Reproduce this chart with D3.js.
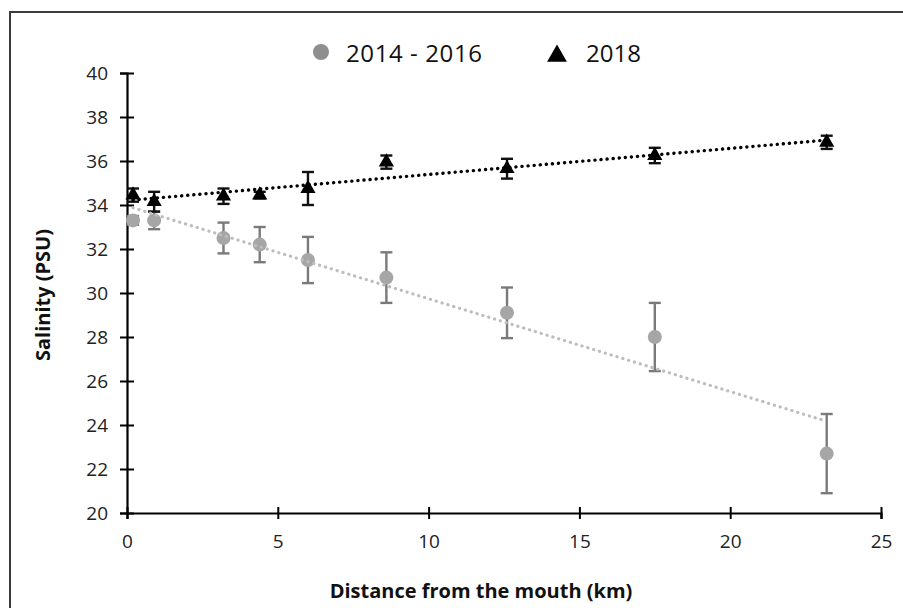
<!DOCTYPE html>
<html lang="en">
<head>
  <meta charset="UTF-8">
  <title>Salinity</title>
  <style>
    body { margin: 0; background: #fff; }
    text { font-family: "Open Sans", sans-serif; }
  </style>
</head>
<body>
  <svg id="svg" width="903" height="608"></svg>
  <script src="https://d3js.org/d3.v7.min.js"></script>
  <script>
    // values
    const distance = [0.2, 0.9, 3.2, 4.4, 6.0, 8.6, 12.6, 17.5, 23.2]
    const salinity1416 = [33.3, 33.3, 32.5, 32.2, 31.5, 30.7, 29.1, 28.0, 22.7]
    const error1416 = [0.2, 0.4, 0.7, 0.8, 1.05, 1.15, 1.15, 1.55, 1.8]
    const salinity2018 = [34.45, 34.15, 34.4, 34.45, 34.75, 35.95, 35.65, 36.25, 36.85]
    const error2018 = [0.3, 0.45, 0.35, 0.15, 0.75, 0.3, 0.45, 0.35, 0.3]
    const xTicks = [0, 5, 10, 15, 20, 25]
    const yTicks = [20, 22, 24, 26, 28, 30, 32, 34, 36, 38, 40]
    const seriesNames = ['2014 - 2016', '2018']

    const svg = d3.select('#svg')

    // outer frame
    svg.append('rect')
      .attr('x', 10).attr('y', 12)
      .attr('width', 1000).attr('height', 1000)
      .attr('fill', 'none')
      .attr('stroke', '#3a3a3a')
      .attr('stroke-width', 2)

    const xScale = d3.scaleLinear().domain([0, 25]).range([127, 881])
    const yScale = d3.scaleLinear().domain([20, 40]).range([513, 73])

    // axes with crossing ticks
    svg.append('g')
      .attr('transform', `translate(0,${yScale(20)})`)
      .call(d3.axisBottom(xScale).tickValues(xTicks).tickSize(6).tickPadding(16))
      .call(g => g.select('.domain').attr('stroke', '#000').attr('stroke-width', 2.2))
      .call(g => g.selectAll('.tick line').attr('y1', -6).attr('stroke-width', 2))
      .call(g => g.selectAll('.tick text')
        .attr('font-size', 19).attr('fill', '#222').style('font-family', '"Open Sans", sans-serif'))

    svg.append('g')
      .attr('transform', `translate(${xScale(0)},0)`)
      .call(d3.axisLeft(yScale).tickValues(yTicks).tickSize(7).tickPadding(12))
      .call(g => g.select('.domain').attr('stroke', '#000').attr('stroke-width', 2.2))
      .call(g => g.selectAll('.tick line').attr('x1', 7).attr('stroke-width', 2))
      .call(g => g.selectAll('.tick text')
        .attr('font-size', 19).attr('fill', '#222').style('font-family', '"Open Sans", sans-serif'))

    // axis titles
    svg.append('text')
      .attr('x', 481).attr('y', 598)
      .attr('text-anchor', 'middle')
      .attr('font-size', 20).attr('font-weight', 'bold').attr('fill', '#111')
      .text('Distance from the mouth (km)')

    svg.append('text')
      .attr('transform', 'translate(50,295) rotate(-90)')
      .attr('text-anchor', 'middle')
      .attr('font-size', 20).attr('font-weight', 'bold').attr('fill', '#111')
      .text('Salinity (PSU)')

    const data1416 = distance.map((d, i) => ({ x: d, y: salinity1416[i], e: error1416[i] }))
    const data2018 = distance.map((d, i) => ({ x: d, y: salinity2018[i], e: error2018[i] }))

    // least squares trendline over the data range
    function trend(data) {
      const mx = d3.mean(data, d => d.x)
      const my = d3.mean(data, d => d.y)
      const slope = d3.sum(data, d => (d.x - mx) * (d.y - my)) / d3.sum(data, d => (d.x - mx) ** 2)
      const b = my - slope * mx
      const [x0, x1] = d3.extent(data, d => d.x)
      return [[x0, b + slope * x0], [x1, b + slope * x1]]
    }

    function errorBars(data, color) {
      const g = svg.append('g').attr('stroke', color).attr('stroke-width', 2.4)
      g.selectAll('.bar').data(data).enter().append('line')
        .attr('x1', d => xScale(d.x)).attr('x2', d => xScale(d.x))
        .attr('y1', d => yScale(d.y - d.e)).attr('y2', d => yScale(d.y + d.e))
      g.selectAll('.capTop').data(data).enter().append('line')
        .attr('x1', d => xScale(d.x) - 6).attr('x2', d => xScale(d.x) + 6)
        .attr('y1', d => yScale(d.y + d.e)).attr('y2', d => yScale(d.y + d.e))
      g.selectAll('.capBottom').data(data).enter().append('line')
        .attr('x1', d => xScale(d.x) - 6).attr('x2', d => xScale(d.x) + 6)
        .attr('y1', d => yScale(d.y - d.e)).attr('y2', d => yScale(d.y - d.e))
    }

    errorBars(data1416, '#7a7a7a')
    errorBars(data2018, '#111')

    svg.append('g').selectAll('circle')
      .data(data1416).enter().append('circle')
      .attr('cx', d => xScale(d.x))
      .attr('cy', d => yScale(d.y))
      .attr('r', 7)
      .attr('fill', '#a6a6a6')

    const tri = d3.symbol(d3.symbolTriangle, 100)
    svg.append('g').selectAll('path')
      .data(data2018).enter().append('path')
      .attr('transform', d => `translate(${xScale(d.x)},${yScale(d.y)})`)
      .attr('d', tri)
      .attr('fill', '#000')

    const line = d3.line().x(d => xScale(d[0])).y(d => yScale(d[1]))

    svg.append('path')
      .attr('d', line(trend(data1416)))
      .attr('stroke', '#bdbdbd').attr('stroke-width', 3.2)
      .attr('stroke-dasharray', '0.1 6').attr('stroke-linecap', 'round')
      .attr('fill', 'none')

    svg.append('path')
      .attr('d', line(trend(data2018)))
      .attr('stroke', '#000').attr('stroke-width', 3.4)
      .attr('stroke-dasharray', '0.1 6').attr('stroke-linecap', 'round')
      .attr('fill', 'none')

    // legend
    svg.append('circle')
      .attr('cx', 321).attr('cy', 52).attr('r', 8)
      .attr('fill', '#8f8f8f')
    svg.append('text')
      .attr('x', 346).attr('y', 62)
      .attr('font-size', 24).attr('fill', '#111')
      .attr('letter-spacing', 0.6)
      .text(seriesNames[0])

    svg.append('path')
      .attr('transform', 'translate(557,56)')
      .attr('d', d3.symbol(d3.symbolTriangle, 170))
      .attr('fill', '#000')
    svg.append('text')
      .attr('x', 586).attr('y', 62)
      .attr('font-size', 24).attr('fill', '#111')
      .text(seriesNames[1])
  </script>
</body>
</html>
